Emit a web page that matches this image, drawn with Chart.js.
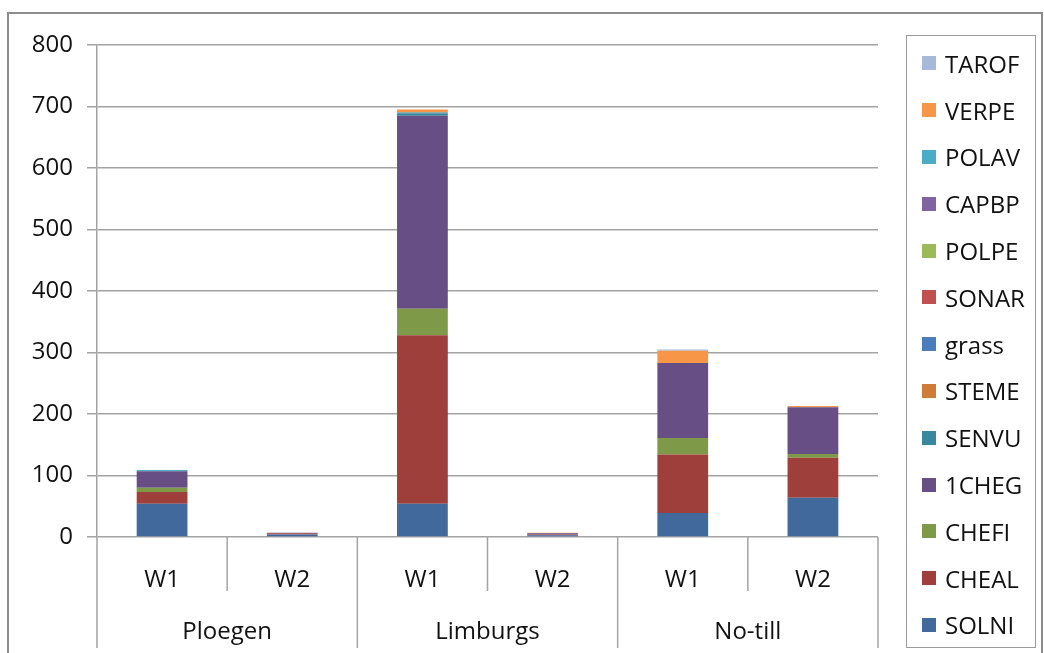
<!DOCTYPE html>
<html>
<head>
<meta charset="utf-8">
<script src="https://cdn.jsdelivr.net/npm/chart.js@4"></script>
<style>
  body{margin:0;background:#fff;font-family:"Open Sans",sans-serif;}
  #wrap{position:relative;width:1044px;height:653px;overflow:hidden;}
  #frame{position:absolute;left:7px;top:12px;width:1032px;height:700px;border:2px solid #8c8c8c;}
  #chart{position:absolute;left:0;top:0;}
  #legend{position:absolute;left:906px;top:35px;width:130px;height:613px;border:1.5px solid #9a9a9a;padding-top:4px;box-sizing:border-box;}
  .item{height:46.8px;display:flex;align-items:center;font-size:24px;color:#111;}
  .sw{width:14px;height:14px;margin-left:15px;margin-right:9px;}
</style>
</head>
<body>
<div id="wrap">
  <div id="frame"></div>
  <canvas id="chart" width="1044" height="653"></canvas>
  <div id="legend"></div>
</div>
<script>
// bars: Ploegen W1, W2, Limburgs W1, W2, No-till W1, W2
const treatments = ['W1','W2','W1','W2','W1','W2'];
const groups = ['Ploegen','Limburgs','No-till'];
const yTicks = [0,100,200,300,400,500,600,700,800];

// species, stacked bottom -> top
const species = ['SOLNI','CHEAL','CHEFI','1CHEG','SENVU','STEME','grass','SONAR','POLPE','CAPBP','POLAV','VERPE','TAROF'];
const colours = ['#41699b','#9e3f3b','#7e9a49','#674f86','#37889e','#cf7b38','#4a7ebb','#c0504d','#9bbb59','#8064a2','#4bacc6','#f79646','#a7b9db'];
const SOLNI = [54, 4, 54, 3, 39, 64];
const CHEAL = [19, 2, 274, 1, 95, 65];
const CHEFI = [7, 0, 43, 0, 27, 6];
const CHEG1 = [27, 1, 314, 2, 122, 76];
const SENVU = [0, 0, 4, 0, 0, 0];
const STEME = [0, 0, 1, 0, 0, 0];
const grass = [0, 0, 0, 0, 0, 0];
const SONAR = [0, 0, 0, 0, 0, 0];
const POLPE = [0, 0, 0, 0, 0, 0];
const CAPBP = [0, 0, 0, 0, 0, 0];
const POLAV = [2, 0, 1, 0, 0, 0];
const VERPE = [0, 0, 4, 1, 20, 2];
const TAROF = [0, 0, 0, 0, 2, 0];
const values = [SOLNI, CHEAL, CHEFI, CHEG1, SENVU, STEME, grass, SONAR, POLPE, CAPBP, POLAV, VERPE, TAROF];

const gridCol = '#a3a3a3';
const font = {family:'"Open Sans", sans-serif', size:24};

// vertical separators under the category axis
const separators = {
  id:'separators',
  afterDraw(chart){
    const x = chart.scales.x, x2 = chart.scales.x2, ctx = chart.ctx;
    const n = treatments.length;
    ctx.save();
    ctx.strokeStyle = gridCol; ctx.lineWidth = 1.5;
    for(let i=0;i<=n;i++){
      let px;
      if(i===0) px = x.left;
      else if(i===n) px = x.right;
      else px = (x.getPixelForValue(i-1)+x.getPixelForValue(i))/2;
      const bottom = (i%2===1) ? x.bottom-1 : x2.bottom-5;
      ctx.beginPath(); ctx.moveTo(px, x.top); ctx.lineTo(px, bottom); ctx.stroke();
    }
    ctx.restore();
  }
};

new Chart(document.getElementById('chart'), {
  type:'bar',
  data:{
    labels: treatments,
    datasets: species.map((s,i)=>({label:s, data:values[i], backgroundColor:colours[i], borderWidth:0,
      barPercentage:0.39, categoryPercentage:1.0}))
  },
  options:{
    responsive:false, animation:false,
    layout:{padding:{left:0, right:166, top:45, bottom:0}},
    plugins:{legend:{display:false}, tooltip:{enabled:false}},
    scales:{
      y:{stacked:true, min:0, max:800, afterBuildTicks:s=>{s.ticks = yTicks.map(v=>({value:v}));},
        afterFit:s=>{s.width = 97;},
        grid:{color:gridCol, lineWidth:1.5, tickLength:10},
        border:{color:gridCol, width:1.5},
        ticks:{font, color:'#111', padding:14}},
      x:{stacked:true, afterFit:s=>{s.height = 55;},
        grid:{display:false}, border:{display:false},
        ticks:{font, color:'#111', padding:21, maxRotation:0}},
      x2:{type:'category', labels:groups, position:'bottom', offset:true, afterFit:s=>{s.height = 61;},
        grid:{display:false}, border:{display:false},
        ticks:{font, color:'#111', padding:18, maxRotation:0}}
    }
  },
  plugins:[separators]
});

// legend, top entry = last series
const lg = document.getElementById('legend');
species.slice().reverse().forEach(s=>{
  const i = species.indexOf(s);
  const row = document.createElement('div'); row.className='item';
  row.innerHTML = `<span class="sw" style="background:${colours[i]}"></span><span>${s}</span>`;
  lg.appendChild(row);
});
</script>
</body>
</html>
